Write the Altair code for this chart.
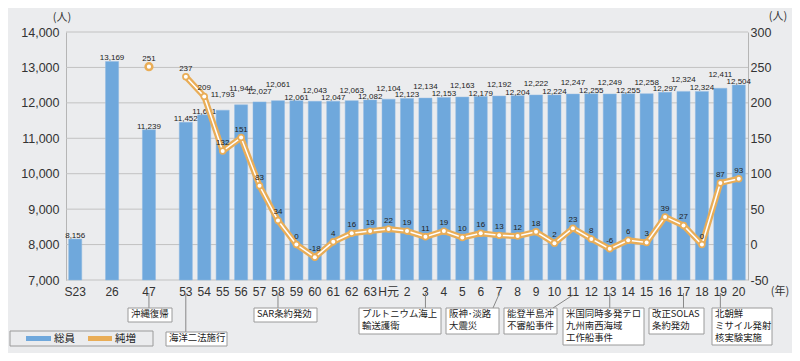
import altair as alt
import pandas as pd

# ---------------- data ----------------
x_order = ["S23", "_g1", "26", "_g2", "47", "_g3",
           "53", "54", "55", "56", "57", "58", "59", "60", "61", "62", "63", "H元",
           "2", "3", "4", "5", "6", "7", "8", "9", "10", "11", "12", "13", "14",
           "15", "16", "17", "18", "19", "20"]

bar_cats = ["S23", "26", "47",
            "53", "54", "55", "56", "57", "58", "59", "60", "61", "62", "63", "H元",
            "2", "3", "4", "5", "6", "7", "8", "9", "10", "11", "12", "13", "14",
            "15", "16", "17", "18", "19", "20"]
bar_vals = [8156, 13169, 11239,
            11452, 11661, 11793, 11944, 12027, 12061, 12061, 12043, 12047, 12063, 12082, 12104,
            12123, 12134, 12153, 12163, 12179, 12192, 12204, 12222, 12224, 12247, 12255, 12249, 12255,
            12258, 12297, 12324, 12324, 12411, 12504]

line_cats = ["47",
             "53", "54", "55", "56", "57", "58", "59", "60", "61", "62", "63", "H元",
             "2", "3", "4", "5", "6", "7", "8", "9", "10", "11", "12", "13", "14",
             "15", "16", "17", "18", "19", "20"]
line_vals = [251,
             237, 209, 132, 151, 83, 34, 0, -18, 4, 16, 19, 22,
             19, 11, 19, 10, 16, 13, 12, 18, 2, 23, 8, -6, 6,
             3, 39, 27, 0, 87, 93]

left_ticks = [7000, 8000, 9000, 10000, 11000, 12000, 13000, 14000]
right_ticks = [-50, 0, 50, 100, 150, 200, 250, 300]

# ---------------- layout / style ----------------
W, H = 682, 248
BLUE = "#6fa8dc"
ORANGE = "#e9ad57"
BG = "#ebecee"
NUMFONT = "Liberation Sans"
JPFONT = "Noto Sans CJK JP"

# raised bar labels (pixels above the default)
bar_label_dy = {"55": -13, "56": -14, "57": -8, "58": -14, "60": -8, "62": -8, "H元": -8,
                "3": -9, "5": -9, "7": -9, "9": -9, "11": -9, "13": -9, "15": -9,
                "17": -9, "19": -11}

bars_df = pd.DataFrame({"cat": bar_cats, "val": bar_vals})
bars_df["dy"] = [bar_label_dy.get(c, -1) for c in bar_cats]
line_df = pd.DataFrame({"cat": line_cats, "val": line_vals})
line_df["lab"] = [str(v) for v in line_vals]
conn_df = line_df[line_df["cat"] != "47"]
iso_df = line_df[line_df["cat"] == "47"]
grid_df = pd.DataFrame({"val": left_ticks})

xs = alt.Scale(domain=x_order, paddingInner=0.29, paddingOuter=0.145)
x_axis = alt.Axis(title=None, labelAngle=0, domain=False, ticks=False, labelPadding=6,
                  labelFontSize=12, labelFont=NUMFONT + ", " + JPFONT, labelColor="#333",
                  grid=False,
                  labelExpr="indexof(datum.label, '_') == 0 ? '' : datum.label")
X = alt.X("cat:N", scale=xs, sort=x_order, axis=x_axis)

yl = alt.Scale(domain=[7000, 14000], nice=False, zero=False)
yr = alt.Scale(domain=[-50, 300], nice=False, zero=False)
yl_axis = alt.Axis(title=None, orient="left", values=left_ticks,
                   labelExpr="format(datum.value, ',')", grid=False, ticks=False,
                   labelPadding=7, domainColor="#b5b5b5", labelFontSize=12.5,
                   labelFont=NUMFONT, labelColor="#333")
yr_axis = alt.Axis(title=None, orient="right", values=right_ticks,
                   labelExpr="'' + datum.value", grid=False, ticks=False, labelPadding=2,
                   domainColor="#b5b5b5", labelFontSize=12.5, labelFont=NUMFONT, labelColor="#333")
YL = alt.Y("val:Q", scale=yl, axis=yl_axis)
YR = alt.Y("val:Q", scale=yr, axis=yr_axis)

grid = alt.Chart(grid_df).mark_rule(color="#c2c2c2", strokeWidth=1).encode(y=YL)

bars = alt.Chart(bars_df).mark_bar(color=BLUE, stroke="#8fb9e3", strokeWidth=0.5).encode(
    x=X, y=YL, y2=alt.datum(7000))

bar_text_layers = []
for dyv in sorted(set(bars_df["dy"])):
    sub = bars_df[bars_df["dy"] == dyv]
    bar_text_layers.append(
        alt.Chart(sub).mark_text(fontSize=8, font=NUMFONT, color="#222", baseline="alphabetic",
                                 dy=float(dyv)).encode(
            x=X, y=YL, text=alt.Text("val:Q", format=","))
    )

left = alt.layer(grid, bars, *bar_text_layers)

line_o = alt.Chart(conn_df).mark_line(color=ORANGE, strokeWidth=6, strokeJoin="round").encode(x=X, y=YR)
line_w = alt.Chart(conn_df).mark_line(color="white", strokeWidth=1.5).encode(x=X, y=YR)
pt_o = alt.Chart(conn_df).mark_point(filled=True, color=ORANGE, size=55, opacity=1).encode(x=X, y=YR)
pt_w = alt.Chart(conn_df).mark_point(filled=True, color="white", size=16, opacity=1).encode(x=X, y=YR)
iso = alt.Chart(iso_df).mark_point(filled=False, stroke=ORANGE, fill="white", strokeWidth=2.5,
                                   size=45, opacity=1).encode(x=X, y=YR)
line_txt = alt.Chart(line_df).mark_text(fontSize=8, font=NUMFONT, color="#222",
                                        baseline="alphabetic", dy=-6).encode(
    x=X, y=YR, text="lab:N")

right = alt.layer(line_o, line_w, pt_o, pt_w, iso, line_txt)

one = pd.DataFrame({"a": [0]})

# ---------------- annotations ----------------
annots = [  # text, box (x0, x1, y0, y1) in plot pixels
    ("沖縄復帰", (62, 106, 276, 290)),
    ("海洋二法施行", (100, 161, 300, 314)),
    ("SAR条約発効", (188, 251, 276, 290)),
    ("プルトニウム海上\n輸送護衛", (293, 375, 276, 302)),
    ("阪神･淡路\n大震災", (380, 433, 276, 302)),
    ("能登半島沖\n不審船事件", (438, 491, 276, 302)),
    ("米国同時多発テロ\n九州南西海域\n工作船事件", (497, 578, 276, 313)),
    ("改正SOLAS\n条約発効", (583, 638, 276, 302)),
    ("北朝鮮\nミサイル発射\n核実験実施", (646, 706, 276, 313)),
]
leaders = [  # category, y start, x2 (None = vertical), y end
    ("47", 261, None, 276), ("53", 261, None, 300), ("58", 261, None, 276),
    ("3", 261, None, 276), ("7", 262, 427, 276), ("11", 263, 487, 276),
    ("13", 261, None, 276), ("17", 261, None, 276), ("19", 261, None, 276),
]

ann_layers = []
for cat, y0, x2, y1 in leaders:
    enc = dict(x=X, y=alt.value(y0), y2=alt.value(y1))
    if x2 is not None:
        enc["x2"] = alt.value(x2)
    ann_layers.append(
        alt.Chart(pd.DataFrame({"cat": [cat]})).mark_rule(color="#888", strokeWidth=1).encode(**enc)
    )
for txt, (x0, x1, y0, y1) in annots:
    ann_layers.append(
        alt.Chart(one).mark_rect(fill="white", stroke="#9a9a9a", strokeWidth=1).encode(
            x=alt.value(x0), x2=alt.value(x1), y=alt.value(y0), y2=alt.value(y1)))
    ann_layers.append(
        alt.Chart(one).mark_text(text=txt, lineBreak="\n", lineHeight=12, align="left",
                                 baseline="top", fontSize=9.4, font=JPFONT, color="#222").encode(
            x=alt.value(x0 + 3), y=alt.value(y0 + 1.5)))

# legend
ann_layers += [
    alt.Chart(one).mark_rect(fill=BG, stroke="#9a9a9a", strokeWidth=1).encode(
        x=alt.value(-56), x2=alt.value(87), y=alt.value(299), y2=alt.value(314)),
    alt.Chart(one).mark_rect(fill=BLUE).encode(
        x=alt.value(-40), x2=alt.value(-15), y=alt.value(304), y2=alt.value(309)),
    alt.Chart(one).mark_rect(fill=ORANGE).encode(
        x=alt.value(22), x2=alt.value(46), y=alt.value(304), y2=alt.value(309)),
    alt.Chart(one).mark_text(text="総員", align="left", baseline="middle", fontSize=10.5,
                             font=JPFONT, color="#222").encode(x=alt.value(-12), y=alt.value(307)),
    alt.Chart(one).mark_text(text="純増", align="left", baseline="middle", fontSize=10.5,
                             font=JPFONT, color="#222").encode(x=alt.value(49), y=alt.value(307)),
    # unit labels
    alt.Chart(one).mark_text(text="(人)", align="center", baseline="middle", fontSize=11,
                             font=JPFONT, color="#333").encode(x=alt.value(-4), y=alt.value(-14)),
    alt.Chart(one).mark_text(text="(人)", align="center", baseline="middle", fontSize=11,
                             font=JPFONT, color="#333").encode(x=alt.value(712), y=alt.value(-15)),
    alt.Chart(one).mark_text(text="(年)", align="center", baseline="middle", fontSize=11,
                             font=JPFONT, color="#333").encode(x=alt.value(714), y=alt.value(260)),
]

chart = alt.layer(left, right, *ann_layers).resolve_scale(y="independent").properties(
    width=W, height=H,
    padding={"left": 58, "top": 24, "right": 44, "bottom": 73},
    autosize=alt.AutoSizeParams(type="none"),
).configure(background=BG).configure_view(stroke=None)

chart.save("out.html", embed_options={"renderer": "svg", "actions": False})
